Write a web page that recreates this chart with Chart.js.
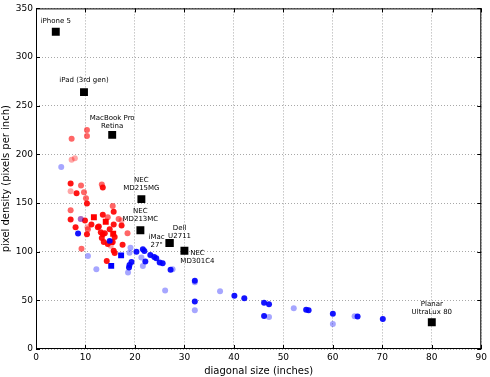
<!DOCTYPE html>
<html>
<head>
<meta charset="utf-8">
<script src="https://cdn.jsdelivr.net/npm/chart.js@4"></script>
<style>
  html, body { margin: 0; padding: 0; background: #fff; }
  #wrap { width: 490px; height: 377px; }
</style>
</head>
<body>
<div id="wrap"><canvas id="chart"></canvas></div>
<script>
// Data: [diagonal (inches), pixel density (ppi)]
const laptopsStrong = [
  [7.0, 170], [10.3, 149.5], [8.2, 160], [15.7, 141], [13.5, 138], [7.0, 133],
  [9.9, 132], [12.5, 125], [8.0, 125], [10.3, 118], [13.5, 118], [17.3, 127],
  [15.7, 128], [13.3, 114], [11.2, 128], [12.7, 126], [13.5, 166], [13.9, 119],
  [14.9, 123], [15.9, 115], [15.5, 110], [17.5, 107], [15.7, 101], [15.9, 98.7],
  [14.3, 90.5], [14.5, 108], [13.7, 110], [13.1, 120]
];
const laptopsMedium = [
  [10.3, 225], [10.3, 219], [7.2, 216], [9.1, 168], [13.3, 169], [9.7, 161],
  [10.1, 155], [15.5, 147], [7.0, 142.5], [14.5, 135.5], [16.7, 133.5],
  [10.5, 123], [18.5, 119], [9.2, 103]
];
const laptopsFaint = [
  [7.85, 196], [7.2, 194.5], [7.0, 162], [17.3, 132], [10.4, 125], [9.05, 133.5],
  [15.1, 106]
];
const monitorsStrong = [
  [8.5, 118.7], [20.3, 100], [21.6, 102.4], [21.9, 100.7], [23.1, 96.6],
  [23.9, 94.6], [24.3, 93.3], [25.0, 88.8], [25.6, 88.2], [27.2, 81.4],
  [22.1, 89.8], [19.3, 89.5], [18.9, 86.2], [18.8, 83.7], [32.1, 70.2],
  [32.1, 48.8], [40.1, 54.6], [42.1, 52.2], [46.1, 47.5], [47.1, 46.1],
  [46.1, 33.9], [54.6, 40.4], [55.1, 39.7], [60.0, 36.3], [65.0, 33.3],
  [70.1, 30.8], [14.9, 111]
];
const monitorsFaint = [
  [5.1, 187], [10.5, 95.6], [12.2, 82], [19.1, 104], [21.3, 94], [21.6, 85.4],
  [18.6, 78.6], [18.9, 99], [27.6, 82], [26.1, 60], [32.1, 68.5], [32.1, 39.7],
  [37.2, 59.3], [47.1, 32.9], [52.1, 42], [60.0, 25.7], [64.4, 33.6], [9.05, 133.5]
];
const laptopSquares = [[11.7, 135.3], [14.1, 130.8], [15.6, 118.4], [15.2, 110]];
const monitorSquares = [[15.2, 85.4], [17.2, 96.2]];

const namedDevices = ['iPhone 5', 'iPad (3rd gen)', 'MacBook Pro\nRetina', 'NEC\nMD215MG',
  'NEC\nMD213MC', 'iMac\n27"', 'Dell\nU2711', 'NEC\nMD301C4', 'Planar\nUltraLux 80'];
const namedSizes = [4, 9.7, 15.4, 21.3, 21.1, 27, 27, 30, 80];
const namedPpi = [326, 264, 220, 154, 122, 109, 109, 101, 27.5];

const xTicks = [0, 10, 20, 30, 40, 50, 60, 70, 80, 90];
const yTicks = [0, 50, 100, 150, 200, 250, 300, 350];

// label placement relative to marker (px): dx, dy of first line
const labelOffsets = [[0, -11], [0, -12], [0, -17], [0, -19], [0, -19], [-13, -6], [10, -15], [13, 2], [0, -18]];

function pts(arr) {
  return arr.map(p => ({x: p[0], y: p[1]}));
}

const FONT = "'DejaVu Sans', sans-serif";

const framePlugin = {
  id: 'frame',
  afterDatasetsDraw(chart) {
    const {ctx, chartArea: a, scales} = chart;
    ctx.save();
    ctx.strokeStyle = '#000';
    ctx.lineWidth = 1;
    ctx.strokeRect(a.left + 0.5, a.top + 0.5, a.right - a.left - 1, a.bottom - a.top - 1);
    ctx.beginPath();
    xTicks.forEach(v => {
      const px = Math.round(scales.x.getPixelForValue(v)) + 0.5;
      ctx.moveTo(px, a.bottom); ctx.lineTo(px, a.bottom - 4);
      ctx.moveTo(px, a.top); ctx.lineTo(px, a.top + 4);
    });
    yTicks.forEach(v => {
      const py = Math.round(scales.y.getPixelForValue(v)) + 0.5;
      ctx.moveTo(a.left, py); ctx.lineTo(a.left + 4, py);
      ctx.moveTo(a.right, py); ctx.lineTo(a.right - 4, py);
    });
    ctx.stroke();

    // device name labels
    ctx.fillStyle = '#000';
    ctx.font = '7px ' + FONT;
    ctx.textAlign = 'center';
    ctx.textBaseline = 'middle';
    namedDevices.forEach((name, i) => {
      const x = scales.x.getPixelForValue(namedSizes[i]) + labelOffsets[i][0];
      const y = scales.y.getPixelForValue(namedPpi[i]) + labelOffsets[i][1];
      name.split('\n').forEach((line, j) => ctx.fillText(line, x, y + j * 8));
    });
    ctx.restore();
  }
};

const ctx = document.querySelector('#chart');

new Chart(ctx, {
  type: 'scatter',
  data: {
    datasets: [
      { data: pts(monitorsFaint), backgroundColor: 'rgba(0,0,255,0.35)', pointRadius: 3 },
      { data: pts(laptopsFaint), backgroundColor: 'rgba(255,0,0,0.35)', pointRadius: 3 },
      { data: pts(laptopsMedium), backgroundColor: 'rgba(255,0,0,0.6)', pointRadius: 3 },
      { data: pts(monitorsStrong), backgroundColor: 'rgba(0,0,255,0.92)', pointRadius: 3 },
      { data: pts(laptopsStrong), backgroundColor: 'rgba(255,0,0,0.92)', pointRadius: 3 },
      { data: pts(laptopSquares), backgroundColor: '#ff0000', pointStyle: 'rect', pointRadius: 4.2 },
      { data: pts(monitorSquares), backgroundColor: '#0000ff', pointStyle: 'rect', pointRadius: 4.2 },
      { data: namedSizes.map((s, i) => ({x: s, y: namedPpi[i]})), backgroundColor: '#000', pointStyle: 'rect', pointRadius: 5.6 }
    ]
  },
  options: {
    responsive: true,
    maintainAspectRatio: false,
    animation: false,
    layout: { padding: { top: 5, right: 7, left: 0, bottom: 0 } },
    elements: { point: { borderWidth: 0, hoverRadius: 4 } },
    plugins: { legend: { display: false }, tooltip: { enabled: false } },
    scales: {
      x: {
        type: 'linear',
        min: 0, max: 90,
        afterFit: s => { s.height = 28; },
        afterBuildTicks: s => { s.ticks = xTicks.map(v => ({value: v})); },
        ticks: { color: '#000', font: { family: FONT, size: 9 }, padding: 3, maxRotation: 0 },
        grid: { color: '#a8a8a8', drawTicks: false },
        border: { display: false, dash: [1, 2] },
        title: { display: true, text: 'diagonal size (inches)', color: '#000', font: { family: FONT, size: 10 }, padding: { top: 2, bottom: 0 } }
      },
      y: {
        type: 'linear',
        min: 0, max: 350,
        afterFit: s => { s.width = 36; },
        afterBuildTicks: s => { s.ticks = yTicks.map(v => ({value: v})); },
        ticks: { color: '#000', font: { family: FONT, size: 9 }, padding: 3 },
        grid: { color: '#a8a8a8', drawTicks: false },
        border: { display: false, dash: [1, 2] },
        title: { display: true, text: 'pixel density (pixels per inch)', color: '#000', font: { family: FONT, size: 10 }, padding: { top: 0, bottom: 0 } }
      }
    }
  },
  plugins: [framePlugin]
});
</script>
</body>
</html>
